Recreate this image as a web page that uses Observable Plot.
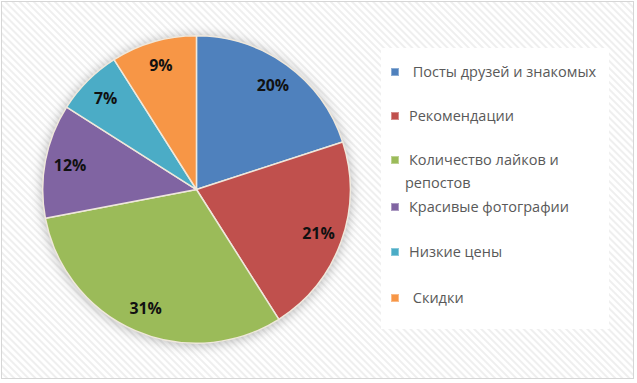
<!DOCTYPE html>
<html>
<head>
<meta charset="utf-8">
<script src="https://cdn.jsdelivr.net/npm/d3@7"></script>
<script src="https://cdn.jsdelivr.net/npm/@observablehq/plot@0.6"></script>
<style>
  html, body { margin: 0; padding: 0; background: #fff; }
  #wrap {
    position: relative; width: 633px; height: 378px; margin: 1px 0 0 1px;
    border: 1.5px solid #d6d6d6; box-sizing: border-box;
    background: repeating-linear-gradient(45deg, #ffffff 0px, #ffffff 2px, #efefef 3px, #efefef 4px, #ffffff 5px);
    overflow: hidden;
  }
  #chart { position: absolute; left: -1px; top: -1px; }
  #legend {
    position: absolute; left: 379px; top: 46px; width: 228px; height: 281px;
    background: #fff; font-family: "Open Sans", sans-serif; font-size: 14.5px; color: #595959;
  }
  .item { position: absolute; left: 0; white-space: pre; line-height: 22px; }
  .sw { position: absolute; left: 10px; width: 8px; height: 8px; }
  .lbl { position: absolute; left: 28px; white-space: pre; }
</style>
</head>
<body>
<div id="wrap">
  <div id="chart"></div>
  <div id="legend"></div>
</div>
<script>
// Data
const labels = ["Посты друзей и знакомых", "Рекомендации", "Количество лайков и репостов", "Красивые фотографии", "Низкие цены", "Скидки"];
const legendLines = [[" Посты друзей и знакомых"], ["Рекомендации"], ["Количество лайков и", "репостов"], ["Красивые фотографии"], ["Низкие цены"], [" Скидки"]];
const values = [20, 21, 31, 12, 7, 9];
const colors = ["#4f81bd", "#c0504d", "#9bbb59", "#8064a2", "#4bacc6", "#f79646"];

const data = labels.map((label, i) => ({label, value: values[i]}));
const arcs = d3.pie().sort(null).value(d => d.value)(data);
const labelR = 0.84;
const labelData = arcs.map(a => {
  const m = (a.startAngle + a.endAngle) / 2;
  return {x: labelR * Math.sin(m), y: labelR * Math.cos(m), text: a.data.value + "%"};
});
const color = d3.scaleOrdinal(labels, colors);

// Pie geometry (layout)
const W = 637, H = 383, cx = 197, cy = 190, R = 155;

function pieMark(index, scales) {
  const x0 = scales.x(0), y0 = scales.y(0), r = scales.x(1) - scales.x(0);
  const g = d3.create("svg:g")
    .attr("transform", `translate(${x0},${y0})`)
    .style("filter", "drop-shadow(0px 1px 6px rgba(0,0,0,0.28))");
  const arc = d3.arc().innerRadius(0).outerRadius(r);
  g.selectAll("path").data(arcs).join("path")
    .attr("d", arc)
    .attr("fill", d => color(d.data.label))
    .attr("stroke", "#efe8dc")
    .attr("stroke-width", 1.5)
    .attr("stroke-linejoin", "round");
  return g.node();
}

const plot = Plot.plot({
  width: W, height: H, margin: 0,
  style: {background: "transparent", overflow: "visible"},
  x: {domain: [-1, 1], range: [cx - R, cx + R], axis: null},
  y: {domain: [-1, 1], range: [cy + R, cy - R], axis: null},
  marks: [
    pieMark,
    Plot.text(labelData, {x: "x", y: "y", text: "text", fill: "#111",
      fontSize: 16, fontWeight: "bold", fontFamily: "Open Sans", textAnchor: "middle"})
  ]
});
document.getElementById("chart").appendChild(plot);

// Legend (HTML)
const legendRows = [24, 68, 112, 159, 204, 250];
const legend = d3.select("#legend");
legendLines.forEach((lines, i) => {
  const it = legend.append("div").attr("class", "item").style("top", (legendRows[i] - 11) + "px");
  it.append("div").attr("class", "sw").style("top", "7px").style("background", colors[i])
    .style("box-shadow", "inset 0 0 0 1px rgba(255,255,255,0.35)");
  lines.forEach((t, j) => {
    it.append("div").attr("class", "lbl").style("top", (j * 23) + "px")
      .style("left", j === 0 ? "28px" : "24px").text(t);
  });
});
</script>
</body>
</html>
